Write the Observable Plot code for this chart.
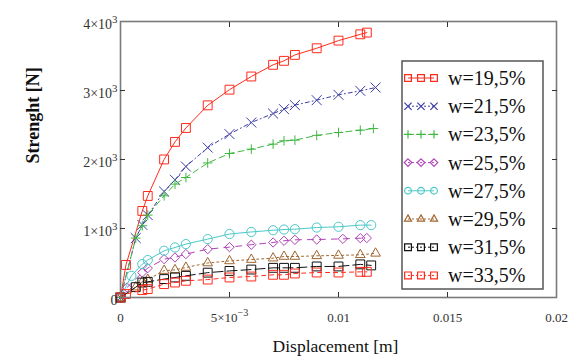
<!DOCTYPE html>
<html>
<head>
<meta charset="utf-8">
<script src="https://cdn.jsdelivr.net/npm/d3@7"></script>
<script src="https://cdn.jsdelivr.net/npm/@observablehq/plot@0.6"></script>
<style>
  html, body { margin: 0; padding: 0; background: #fff; }
</style>
</head>
<body>
<div id="chart"></div>
<script>
// Displacement [m] and strength [N] for each moisture content w
const labels = ["w=19,5%", "w=21,5%", "w=23,5%", "w=25,5%", "w=27,5%", "w=29,5%", "w=31,5%", "w=33,5%"];

const disp195 = [0, 0.00025, 0.001, 0.00125, 0.002, 0.0025, 0.003, 0.004, 0.005, 0.006, 0.007, 0.0075, 0.008, 0.009, 0.010, 0.011, 0.0113];
const force195 = [0, 472, 1255, 1472, 2001, 2255, 2457, 2785, 3012, 3203, 3372, 3430, 3516, 3612, 3723, 3814, 3839];

const disp215 = [0, 0.0007, 0.001, 0.00125, 0.002, 0.0025, 0.003, 0.004, 0.005, 0.006, 0.007, 0.0075, 0.008, 0.009, 0.010, 0.011, 0.0117];
const force215 = [0, 861, 1053, 1194, 1536, 1705, 1898, 2173, 2368, 2536, 2666, 2730, 2788, 2860, 2937, 2995, 3043];

const disp235 = [0, 0.0007, 0.001, 0.00125, 0.002, 0.0025, 0.003, 0.004, 0.005, 0.006, 0.007, 0.0075, 0.008, 0.009, 0.010, 0.011, 0.0116];
const force235 = [0, 861, 1040, 1194, 1474, 1643, 1739, 1950, 2087, 2150, 2223, 2271, 2281, 2350, 2391, 2425, 2449];

const disp255 = [0, 0.0003, 0.001, 0.00125, 0.002, 0.0025, 0.003, 0.004, 0.005, 0.006, 0.007, 0.0075, 0.008, 0.009, 0.0102, 0.011, 0.0113];
const force255 = [0, 145, 362, 426, 556, 580, 629, 701, 730, 765, 797, 822, 836, 840, 850, 860, 862];

const disp275 = [0, 0.0005, 0.001, 0.00125, 0.002, 0.0025, 0.003, 0.004, 0.005, 0.006, 0.007, 0.0075, 0.008, 0.009, 0.010, 0.011, 0.0115];
const force275 = [0, 314, 484, 542, 677, 725, 774, 846, 920, 950, 975, 985, 990, 1014, 1025, 1049, 1049];

const disp295 = [0, 0.0007, 0.001, 0.00125, 0.002, 0.0025, 0.003, 0.004, 0.005, 0.006, 0.007, 0.0075, 0.008, 0.009, 0.010, 0.011, 0.0117];
const force295 = [0, 150, 230, 260, 390, 400, 435, 500, 530, 550, 570, 594, 594, 604, 610, 619, 640];

const disp315 = [0, 0.0007, 0.001, 0.00125, 0.002, 0.0025, 0.003, 0.004, 0.005, 0.006, 0.007, 0.0075, 0.008, 0.009, 0.010, 0.011, 0.0115];
const force315 = [0, 150, 217, 227, 267, 290, 314, 360, 385, 405, 430, 430, 430, 450, 450, 480, 465];

const disp335 = [0, 0.00025, 0.001, 0.00125, 0.002, 0.0025, 0.003, 0.004, 0.005, 0.006, 0.007, 0.0075, 0.008, 0.009, 0.010, 0.011, 0.0113];
const force335 = [0, 50, 107, 122, 194, 217, 242, 260, 290, 304, 329, 329, 348, 362, 362, 372, 372];

const xTicks = [0, 0.005, 0.01, 0.015, 0.02];
const xTickLabels = ["0", "5×10^−3", "0.01", "0.015", "0.02"];
const yTicks = [0, 1000, 2000, 3000, 4000];
const yTickLabels = ["0", "1×10^3", "2×10^3", "3×10^3", "4×10^3"];

const dispSeries = [disp195, disp215, disp235, disp255, disp275, disp295, disp315, disp335];
const forceSeries = [force195, force215, force235, force255, force275, force295, force315, force335];

// Drawing style for each series
const serif = "'Liberation Serif', 'Times New Roman', serif";
const colors = ["#ff2b1c", "#3d3da6", "#3fb83f", "#b043b8", "#4cc8c8", "#a0652e", "#111111", "#ff2b1c"];
const symbols = ["square", "times", "plus", "diamond2", "circle", "triangle2", "square", "square"];
const radii = [5, 4.6, 3.2, 4.2, 4.6, 4.6, 5, 5];
const dashes = [null, "4,3,1,3", "6,4", "6,6", null, "2,3", "10,4", "4,4"];

const seriesMarks = labels.flatMap((label, i) => {
  const rows = dispSeries[i].map((d, j) => ({disp: d, force: forceSeries[i][j]}));
  return [
    Plot.line(rows, {x: "disp", y: "force", stroke: colors[i], strokeWidth: 1, strokeDasharray: dashes[i]}),
    Plot.dot(rows, {x: "disp", y: "force", stroke: colors[i], fill: "none", strokeWidth: 1, symbol: () => symbols[i], r: radii[i]})
  ];
});

const xInner = xTicks.slice(1, -1);
const yInner = yTicks.slice(1, -1);

const plot = Plot.plot({
  width: 575,
  height: 360,
  marginLeft: 120,
  marginRight: 19,
  marginTop: 21,
  marginBottom: 63,
  style: {fontFamily: serif, fontSize: "13px", color: "#333", background: "#fff"},
  x: {domain: [0, 0.02]},
  y: {domain: [0, 4000]},
  symbol: {type: "identity"},
  marks: [
    ...seriesMarks,
    Plot.frame({stroke: "#7a7a7a", strokeWidth: 1.6}),
    // inward tick marks on all four sides
    Plot.axisX(xInner, {anchor: "bottom", tickSize: -5, tickFormat: () => "", label: null, stroke: "#333"}),
    Plot.axisX(xInner, {anchor: "top", tickSize: -5, tickFormat: () => "", label: null, stroke: "#333"}),
    Plot.axisY(yInner, {anchor: "left", tickSize: -5, tickFormat: () => "", label: null, stroke: "#333"}),
    Plot.axisY(yInner, {anchor: "right", tickSize: -5, tickFormat: () => "", label: null, stroke: "#333"}),
    // tick labels
    Plot.axisX(xTicks, {anchor: "bottom", tickSize: 0, tickPadding: 15, fontSize: 13, tickFormat: (d, i) => xTickLabels[i], label: null, fill: "#333"}),
    Plot.axisY(yTicks, {anchor: "left", tickSize: 0, tickPadding: 3, dy: 3, fontSize: 14, tickFormat: (d, i) => yTickLabels[i], label: null, fill: "#333"}),
    // axis titles
    Plot.text(["Strenght [N]"], {text: d => d, frameAnchor: "left", dx: -87, dy: 4, rotate: -90, fontSize: 18, fontWeight: "bold", fill: "#111"}),
    Plot.text(["Displacement [m]"], {text: d => d, frameAnchor: "bottom", dx: -3, dy: 54, fontSize: 17.5, fill: "#111"})
  ]
});

// Turn "a^b" tick labels into a base and a superscript
d3.select(plot).selectAll("text").each(function() {
  const s = this.textContent;
  if (!s.includes("^")) return;
  const [base, sup] = s.split("^");
  const t = d3.select(this);
  t.selectAll("*").remove();
  t.text(null);
  t.append("tspan").text(base);
  t.append("tspan").attr("dy", "-0.55em").attr("font-size", "0.78em").text(sup);
});

// Legend box inside the plot area, drawn into the same SVG
const legend = d3.select(plot).append("g").attr("transform", "translate(402,61)");
legend.append("rect")
  .attr("width", 141).attr("height", 228)
  .attr("fill", "#fff").attr("stroke", "#555").attr("stroke-width", 1.5);
const symbolTypes = {square: d3.symbolSquare, times: d3.symbolTimes, plus: d3.symbolPlus, diamond2: d3.symbolDiamond2, circle: d3.symbolCircle, triangle2: d3.symbolTriangle2};
labels.forEach((label, i) => {
  const row = legend.append("g").attr("transform", `translate(0,${17 + i * 28.2})`);
  row.append("line")
    .attr("x1", 6).attr("x2", 32)
    .attr("stroke", colors[i]).attr("stroke-width", 1)
    .attr("stroke-dasharray", dashes[i] ? "2,2" : null);
  const size = symbols[i] === "plus" ? 24 : symbols[i] === "square" ? 46 : 36;
  [6, 19, 32].forEach(cx => {
    row.append("path")
      .attr("d", d3.symbol(symbolTypes[symbols[i]], size)())
      .attr("transform", `translate(${cx},0)`)
      .attr("fill", "none").attr("stroke", colors[i]).attr("stroke-width", 1.2);
  });
  row.append("text")
    .attr("x", 46)
    .attr("text-anchor", "start")
    .attr("dominant-baseline", "central")
    .attr("font-family", serif)
    .attr("font-size", 20)
    .attr("fill", "#111")
    .text(label);
});

document.getElementById("chart").appendChild(plot);
</script>
</body>
</html>
